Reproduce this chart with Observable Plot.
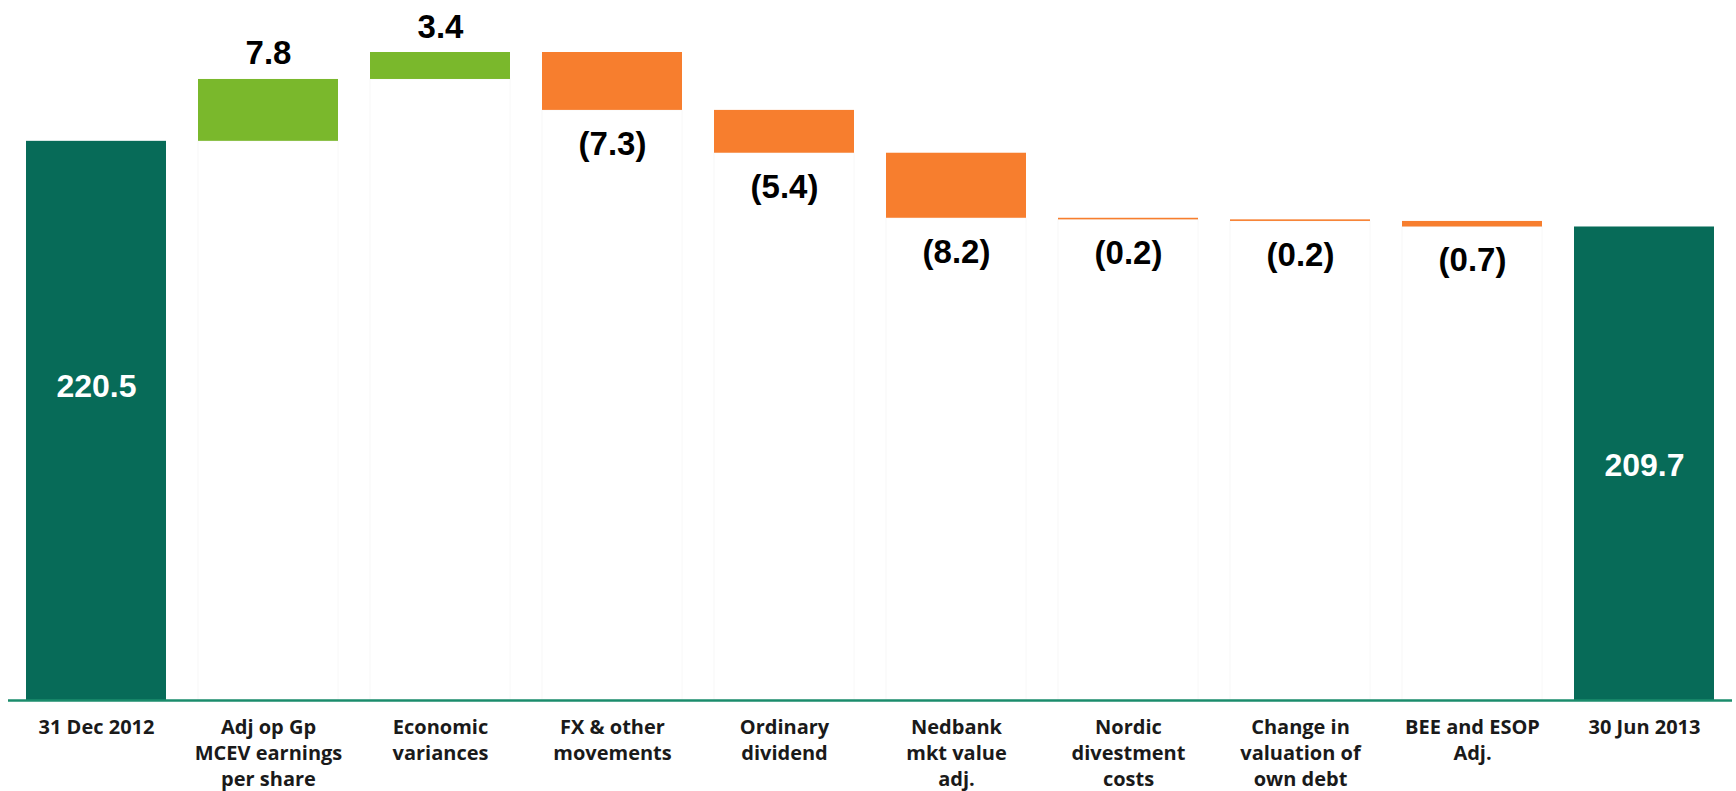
<!DOCTYPE html>
<html>
<head>
<meta charset="utf-8">
<script src="https://cdn.jsdelivr.net/npm/d3@7"></script>
<script src="https://cdn.jsdelivr.net/npm/@observablehq/plot@0.6"></script>
<style>
  html, body { margin: 0; padding: 0; background: #ffffff; }
  #chart svg { display: block; }
</style>
</head>
<body>
<div id="chart"></div>
<script>
// ---- data ----
const categories = [
  "31 Dec 2012",
  "Adj op Gp\nMCEV earnings\nper share",
  "Economic\nvariances",
  "FX & other\nmovements",
  "Ordinary\ndividend",
  "Nedbank\nmkt value\nadj.",
  "Nordic\ndivestment\ncosts",
  "Change in\nvaluation of\nown debt",
  "BEE and ESOP\nAdj.",
  "30 Jun 2013"
];
const openingValue = 220.5;
const closingValue = 209.7;
const changes = [7.8, 3.4, -7.3, -5.4, -8.2, -0.2, -0.2, -0.7];
const axisStart = 150; // value at which the (broken) value axis begins

// ---- build waterfall rows ----
const fmt = v => v < 0 ? `(${Math.abs(v).toFixed(1)})` : v.toFixed(1);
const rows = [];
rows.push({cat: categories[0], kind: "total", y1: axisStart, y2: openingValue, label: fmt(openingValue), idx: 0});
let running = openingValue;
changes.forEach((c, i) => {
  const start = running;
  running = +(running + c).toFixed(4);
  rows.push({cat: categories[i + 1], kind: c >= 0 ? "up" : "down", y1: start, y2: running, lo: Math.min(start, running), hi: Math.max(start, running), label: fmt(c), idx: i + 1});
});
rows.push({cat: categories[categories.length - 1], kind: "total", y1: axisStart, y2: closingValue, label: fmt(closingValue), idx: categories.length - 1});
const yTop = d3.max(rows, d => Math.max(d.y1, d.y2));

const darkGreen = "#076b58";
const lightGreen = "#7ab82c";
const orange = "#f77e2e";
const axisColor = "#1b8c6c";
const valueFont = "Liberation Sans, Arial, sans-serif";
const catFont = "'Open Sans', 'Noto Sans', sans-serif";

const totals = rows.filter(d => d.kind === "total");
const deltas = rows.filter(d => d.kind !== "total");

const chart = Plot.plot({
  width: 1736,
  height: 791,
  marginTop: 52,
  marginBottom: 91,
  marginLeft: 8,
  marginRight: 4,
  x: {type: "band", domain: categories, paddingInner: 0.185, paddingOuter: 0.0925, axis: null},
  y: {domain: [axisStart, yTop], axis: null},
  marks: [
    // faint invisible base bars (as in the spreadsheet original)
    Plot.barY(deltas, {x: "cat", y1: axisStart, y2: "lo", fill: "#ffffff", stroke: "#f8f8f8", strokeWidth: 1, insetLeft: 0, insetRight: 0}),
    Plot.barY(totals, {x: "cat", y1: "y1", y2: "y2", fill: darkGreen, insetLeft: 0, insetRight: 0}),
    Plot.barY(deltas.filter(d => d.kind === "up"), {x: "cat", y1: "y1", y2: "y2", fill: lightGreen, insetLeft: 0, insetRight: 0}),
    Plot.barY(deltas.filter(d => d.kind === "down"), {x: "cat", y1: "y1", y2: "y2", fill: orange, insetLeft: 0, insetRight: 0}),
    Plot.ruleY([axisStart], {stroke: axisColor, strokeWidth: 2.5}),
    // labels on totals
    Plot.text(totals.filter(d => d.idx === 0), {x: "cat", y: d => (d.y1 + d.y2) / 2, text: "label", fill: "#ffffff", fontSize: 32, fontWeight: "bold", fontFamily: valueFont, dy: -34}),
    Plot.text(totals.filter(d => d.idx !== 0), {x: "cat", y: d => (d.y1 + d.y2) / 2, text: "label", fill: "#ffffff", fontSize: 32, fontWeight: "bold", fontFamily: valueFont, dy: 2}),
    // labels on changes
    Plot.text(deltas.filter(d => d.kind === "up"), {x: "cat", y: "hi", text: "label", fill: "#000000", fontSize: 33, fontWeight: "bold", fontFamily: valueFont, lineAnchor: "bottom", dy: -15}),
    Plot.text(deltas.filter(d => d.kind === "down"), {x: "cat", y: "lo", text: "label", fill: "#000000", fontSize: 33, fontWeight: "bold", fontFamily: valueFont, lineAnchor: "top", dy: 21}),
    // category labels
    Plot.text(rows, {x: "cat", y: axisStart, text: "cat", fill: "#1a1a1a", fontSize: 20, fontWeight: "bold", fontFamily: catFont, lineAnchor: "top", lineHeight: 1.3, dy: 15})
  ]
});
document.getElementById("chart").appendChild(chart);
</script>
</body>
</html>
